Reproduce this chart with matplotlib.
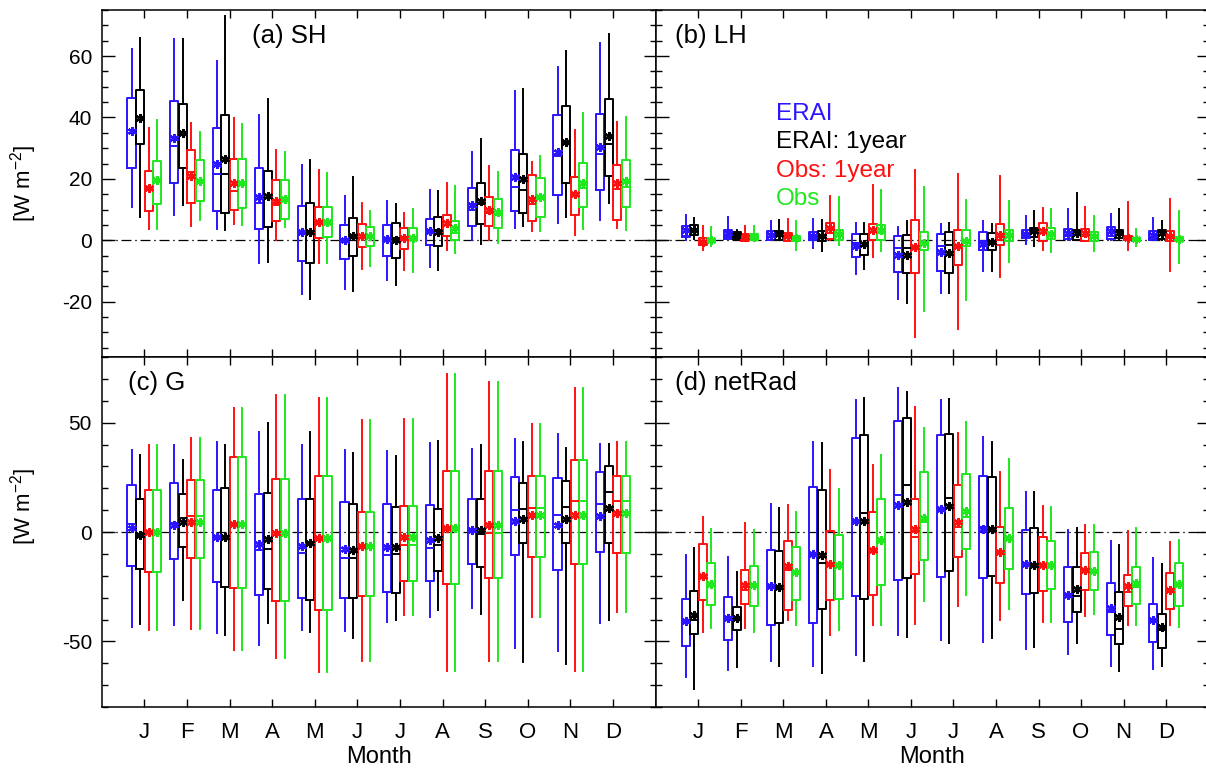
import matplotlib
matplotlib.use('Agg')
import matplotlib.pyplot as plt
from matplotlib.ticker import MultipleLocator

plt.rcParams['font.family'] = ['Liberation Sans', 'DejaVu Sans']
plt.rcParams['mathtext.fontset'] = 'custom'
plt.rcParams['mathtext.rm'] = 'Liberation Sans'
plt.rcParams['mathtext.it'] = 'Liberation Sans:italic'
plt.rcParams['axes.unicode_minus'] = False

months = ['J', 'F', 'M', 'A', 'M', 'J', 'J', 'A', 'S', 'O', 'N', 'D']
series_names = ['ERAI', 'ERAI: 1year', 'Obs: 1year', 'Obs']
series_colors = ['#2b14ff', 'black', '#ff1010', '#1fe81f']

# each row: (whisker low, q1, median, q3, whisker high, mean), one row per month

# (a) SH
sh_erai = [(10.7, 23.5, 35, 46.2, 62.4, 35.6), (8.1, 18.8, 30.8, 45.5, 65.4, 33.2),
           (3.7, 9.4, 21.6, 36.5, 58.5, 24.8), (-7.4, 3.8, 12.1, 23.5, 40.8, 14.1),
           (-17.6, -6.6, 2.7, 11.3, 24.6, 2.7), (-15.8, -6, 0, 5, 14.5, 0),
           (-12.8, -5, 0.4, 5, 12.7, 0.4), (-8.8, -1.6, 3.0, 7.1, 16.5, 3.0),
           (0.2, 4.5, 10, 17, 28.6, 11.4), (4.1, 9.4, 17.4, 29.4, 48.6, 20.7),
           (5.6, 14.8, 27.5, 40.8, 56.6, 28.7), (6.6, 16.5, 28.2, 41, 64.3, 30.5)]
sh_erai1 = [(7.6, 31.3, 40, 48.9, 66, 39.7), (11.4, 23.7, 34.8, 44.3, 65.4, 34.8),
            (3.5, 8.8, 21.6, 40.9, 72.9, 26.6), (-7.0, 4.4, 13.7, 22.6, 46, 14.3),
            (-19, -7.4, 2.7, 12.3, 26.1, 2.7), (-16.6, -5, 1.5, 7.4, 20.6, 1.5),
            (-14.4, -5.8, 0.6, 5.5, 11.9, 0), (-9.8, -1.7, 3.2, 7.7, 16.1, 2.7),
            (-1.2, 5.4, 11.9, 18.8, 32.9, 12.9), (4.5, 8.8, 16.3, 28, 49.4, 20),
            (7.6, 18.6, 32, 43.6, 61.7, 32), (12, 21, 31.3, 46, 67.1, 34)]
sh_obs1 = [(3.7, 9.4, 17, 22.7, 36.5, 17), (4.5, 12.1, 22.4, 29.3, 38.1, 21),
           (5.3, 10, 16.1, 26.6, 39.9, 18.6), (0.2, 6.2, 11.4, 19.6, 29.3, 12.7),
           (-7.4, 0.8, 6, 10.7, 22.8, 6), (-9.5, -2.3, 1.8, 5.2, 12.1, 1.5),
           (-9.8, -2.7, 0.6, 3.9, 8.9, 0.6), (-3.2, 1.5, 5.8, 8.4, 18.6, 5.6),
           (0.2, 4.8, 8.9, 14, 24.2, 10), (2.9, 6.4, 11.9, 21.3, 25.6, 13.5),
           (1.7, 8.1, 15.2, 20.7, 36, 15.2), (4, 6.5, 16.8, 24.5, 38.5, 18.6)]
sh_obs = [(3.7, 11.8, 19.5, 25.9, 39.2, 19.5), (6.5, 12.9, 19.4, 26.2, 35.2, 19.4),
          (4.9, 10.4, 18.3, 26.4, 37.9, 18.6), (4.2, 7.0, 13.4, 19.8, 28.7, 13.4),
          (-7.4, 1.0, 6, 11, 21.8, 6), (-8.4, -1.9, 1.5, 4.3, 9.6, 1.5),
          (-10.4, 0.2, 0.9, 3.9, 10.2, 0.9), (-4.1, 0.2, 2.4, 6.4, 17.7, 4.0),
          (-0.9, 3.9, 8.3, 13.6, 22.1, 9.1), (3.0, 7.6, 14.1, 20.2, 27.5, 14.1),
          (3.7, 10.7, 17, 25.3, 41.3, 18.8), (3.2, 10.9, 17.2, 26.3, 40.3, 19.4)]

# (b) LH
lh_erai = [(0.2, 1.0, 1.3, 4.8, 8.3, 3.5), (0.3, 0.5, 1.1, 3.5, 7.5, 2.4),
           (0.2, 0.2, 1.1, 3.1, 6.4, 1.7), (-2.5, 0, 1.5, 2.7, 7.0, 1.5),
           (-11.1, -5.4, -0.9, 2.2, 5.6, -1.7), (-19.2, -10.2, -2.5, 1.4, 4.3, -4.7),
           (-17.1, -10.1, -1.7, 2.1, 5.3, -3.9), (-10.1, -3.2, -0.3, 2.6, 6.2, -1.2),
           (-1.2, 0.8, 1.6, 3.5, 7.8, 2.2), (0, 0.5, 1.3, 3.7, 10.2, 2.4),
           (0, 0.5, 1.5, 4.3, 8.6, 2.9), (0, 0.2, 0.8, 3.1, 7.3, 1.8)]
lh_erai1 = [(0.3, 1.8, 3.5, 4.9, 7.3, 3.5), (0.2, 0.5, 1.8, 2.7, 3.5, 1.8),
            (0, 0.2, 2.1, 2.9, 6.7, 2.1), (-3.4, -0.3, 1.5, 3.1, 6.5, 1.5),
            (-9.3, -4.8, -0.9, 2.2, 5.6, -1.2), (-20.5, -10.7, -2.5, 1.6, 6.4, -4.9),
            (-17.1, -10.8, -1.4, 2.6, 5.6, -4.1), (-10.1, -3.3, -0.6, 2.4, 5.3, -0.6),
            (-1.7, 1.1, 2.9, 4.0, 9.4, 2.9), (0, 0.2, 1.8, 3.5, 15.4, 2.4),
            (0, 0.8, 1.8, 3.2, 10.3, 2.4), (0.2, 0.5, 1.8, 3.5, 6.2, 2.4)]
lh_obs1 = [(-3.0, -1.4, -0.5, 0.8, 4.8, -0.5), (-0.1, -0.1, 1.1, 2.2, 4.8, 1.1),
           (-0.1, -0.1, 1.3, 2.4, 6.9, 1.3), (0, 0.4, 2.4, 5.6, 14.3, 4.0),
           (-5.4, 0.2, 2.7, 5.4, 18.1, 3.5), (-31.4, -10.5, -2.2, 6.7, 22.8, -2.2),
           (-28.8, -7.9, -1.7, 3.2, 21.6, -1.7), (-11.9, -1.4, 0.2, 5.4, 20.8, 1.8),
           (-3.0, -0.1, 3.2, 5.6, 10.5, 2.9), (-0.1, -0.1, 1.3, 3.7, 10.8, 2.4),
           (-3.2, 0, 0.4, 1.5, 12.5, 0.9), (-10.1, -0.1, 1.3, 2.9, 13.4, 1.3)]
lh_obs = [(-1.9, -0.6, 0, 0.4, 4.3, 0), (0, 0, 1.1, 2.2, 4.5, 1.1),
          (-3.0, -0.3, 0.6, 1.5, 6.4, 0.6), (-1.4, 0.2, 1.3, 3.2, 14, 2.2),
          (-3.4, 0, 2.4, 5.0, 16.5, 3.2), (-23, -3.3, -0.5, 2.6, 17.5, -0.9),
          (-19.5, -1.7, -0.1, 3.2, 13.2, -0.1), (-7.1, -0.1, 1.0, 3.5, 12.9, 1.6),
          (-3.9, 0.5, 1.9, 4.0, 10.2, 2.2), (-3.6, -0.3, 0.8, 2.6, 7.8, 1.3),
          (-1.7, -0.1, 0.2, 0.8, 3.7, 0.5), (-7.3, 0, 0.5, 1.1, 9.4, 0.5)]

# (c) G
g_erai = [(-43.5, -15.5, 3.7, 21.4, 37.7, 2), (-42.7, -12.4, 4, 22.4, 39.8, 3.1),
          (-46.2, -23, -2.5, 19, 41.3, -2.5), (-51.8, -28.6, -8, 17.6, 45.5, -5.5),
          (-44.6, -30, -9.8, 15.3, 39.8, -6.6), (-45.3, -30.2, -11.8, 13.5, 37.7, -7.7),
          (-41.2, -27.6, -10.4, 13, 37.2, -6.7), (-38.9, -22.4, -7.2, 12.4, 40.7, -3.8),
          (-34.8, -14.4, 0.8, 15.3, 38, 0.8), (-52.8, -10.6, 10, 25.1, 42.6, 5.1),
          (-54.2, -17.5, 7.7, 24.7, 44.6, 3.1), (-41.5, -9, 13, 27.4, 40.3, 7.4)]
g_erai1 = [(-42, -17, -1.5, 15, 35.1, -1.5), (-31.2, -7, 6.6, 17.6, 33.1, 4.6),
           (-47, -25.1, -2.5, 19.9, 40, -2.5), (-41.5, -25.9, -7.8, 17.8, 49.8, -3.4),
           (-45.5, -30.9, -5.1, 14.9, 45.5, -5.1), (-48.4, -30.3, -11.8, 12.7, 36, -8.3),
           (-40.1, -27.7, -10.1, 11.6, 34.9, -6.9), (-35.8, -17.8, -6, 10.7, 41.7, -2.6),
           (-37.4, -15.8, -0.9, 14.9, 39.8, 0.9), (-59.6, -5.2, 10.6, 22.5, 41.3, 6),
           (-60.3, -5.2, 11.6, 23.1, 38.4, 5.8), (-40.1, -5.2, 18.1, 30, 40.3, 11.2)]
g_obs1 = [(-44.7, -18.5, 0, 19, 39.8, 0), (-44.4, -11.9, 7.5, 23.6, 43.2, 4.7),
          (-53.9, -25.6, 3.5, 34.5, 56.8, 3.5), (-57.6, -31.7, 0, 24.2, 62.5, -0.5),
          (-64.2, -35.8, -2.6, 25.4, 61.1, -2.6), (-59.1, -29.2, -6.4, 9.2, 51, -6.4),
          (-38.1, -22.2, -6.1, 11.8, 51.6, -2.3), (-63.7, -23.6, 2, 27.9, 72.1, 2),
          (-59.1, -20.8, -0.6, 27.9, 68.8, 3.2), (-38.9, -11.3, 10.9, 25.4, 49.6, 7.8),
          (-63.7, -14.7, 14.4, 32.9, 66, 7.8), (-36.6, -9.6, 14.1, 25.5, 41.1, 8.9)]
g_obs = [(-44.7, -18.5, 0, 19, 39.8, 0), (-44.4, -11.9, 7.5, 23.6, 43.2, 4.7),
         (-53.9, -25.6, 3.5, 34.5, 56.8, 3.5), (-57.6, -31.7, 0, 24.2, 62.5, -0.5),
         (-64.2, -35.8, -2.6, 25.4, 61.1, -2.6), (-59.1, -29.2, -6.4, 9.2, 51, -6.4),
         (-38.1, -22.2, -6.1, 11.8, 51.6, -2.3), (-63.7, -23.6, 2, 27.9, 72.1, 2),
         (-59.1, -20.8, -0.6, 27.9, 68.8, 3.2), (-38.9, -11.3, 10.9, 25.4, 49.6, 7.8),
         (-63.7, -14.7, 14.4, 32.9, 66, 7.8), (-36.6, -9.6, 14.1, 25.5, 41.1, 8.9)]

# (d) netRad
rn_erai = [(-66.5, -52.2, -40.7, -30.8, -10.6, -40.7), (-62.9, -49.2, -39.2, -29.9, -11.3, -39.2),
           (-58.8, -42.7, -24.8, -8.3, 13, -24.8), (-61.4, -41.7, -10.1, 20.4, 41.3, -10.1),
           (-56, -29.4, 5.2, 43.2, 60.2, 5.2), (-47.3, -22.1, 17, 50.7, 65.7, 12.4),
           (-49.2, -20.5, 10.4, 44.3, 60.2, 10.4), (-50.4, -20.8, 2.5, 25.7, 43.5, 1.4),
           (-53.4, -28.2, -14.4, 0.9, 18.1, -14.4), (-55.7, -41.2, -28.6, -16.2, 0.9, -28.6),
           (-61.1, -47.3, -36.6, -23.3, -4, -34.8), (-62.6, -50.1, -40.4, -32.8, -12.1, -40.4)]
rn_erai1 = [(-71.8, -46.6, -40.4, -27.1, -7.5, -38.1), (-61.9, -44.9, -39.2, -34.3, -18.2, -39.2),
            (-61.1, -41.7, -25.3, -8.6, 11.2, -25.3), (-64.6, -35.1, -14.1, 19.1, 40.7, -10.4),
            (-59.1, -30.5, 8.6, 44.4, 61.4, 4.9), (-47.8, -20.8, 21.4, 52.1, 64, 13.5),
            (-50.7, -17.8, 15.5, 44.7, 61, 11.9), (-48.4, -20.2, 1.2, 25, 41, 1.2),
            (-52.7, -27.7, -14.9, 2, 18.5, -14.9), (-50.8, -36.6, -29.2, -15.9, 1.7, -26.2),
            (-63.4, -51.4, -44.3, -27.4, -6.1, -38.9), (-61.1, -53.1, -45, -37.4, -14.4, -43.2)]
rn_obs1 = [(-45.8, -31.2, -19.9, -5.7, 6.7, -19.9), (-44, -32.8, -26.6, -17.5, 4.3, -24),
           (-40.1, -35.8, -17.5, -4, 12.4, -15.5), (-47, -30.9, -14.4, 0.5, 28.5, -14.4),
           (-42.7, -28.6, -8, 9, 30.8, -8), (-42, -19, -2.1, 15.2, 57.1, 1.2),
           (-33.8, -11.5, 2.5, 21.3, 45.3, 4.7), (-40.1, -23.1, -9, 2.5, 27.4, -9),
           (-41.2, -27, -14.9, -2.1, 12.1, -14.9), (-38.4, -26.6, -17.5, -9.5, 3.1, -17.5),
           (-42.4, -34, -27.4, -19.8, 0.6, -24.7), (-42.7, -35.1, -26.6, -18.7, -4.6, -26.6)]
rn_obs = [(-44, -33.4, -23.7, -14.1, 1.4, -23.7), (-45.5, -34, -24.2, -15.5, 0.8, -24.2),
          (-42.7, -30.9, -18.2, -6.9, 9.3, -18.2), (-44.7, -30.6, -15.2, -1.4, 19.6, -15.2),
          (-42.4, -24.3, -3.8, 15.2, 35.4, -3.8), (-31.5, -13, 4.7, 27.6, 47.6, 6.6),
          (-28.9, -7.8, 7, 26.5, 50.4, 9.8), (-35.1, -16.7, -2.6, 11, 33.4, -2.6),
          (-41.2, -26.2, -14.9, -4, 11.3, -14.9), (-37.4, -26.6, -17.8, -9.2, 3.4, -17.8),
          (-42.3, -32.8, -25.1, -15.9, 2, -23.1), (-43.2, -33.8, -23.6, -14.1, -3.7, -23.6)]

panels = [
    ('(a) SH', [sh_erai, sh_erai1, sh_obs1, sh_obs], (-38, 75), 20, 5),
    ('(b) LH', [lh_erai, lh_erai1, lh_obs1, lh_obs], (-38, 75), 20, 5),
    ('(c) G', [g_erai, g_erai1, g_obs1, g_obs], (-80, 80), 50, 10),
    ('(d) netRad', [rn_erai, rn_erai1, rn_obs1, rn_obs], (-80, 80), 50, 10),
]
offsets = [-0.3, -0.1, 0.1, 0.3]

W, H = 1206, 775
fig = plt.figure(figsize=(W / 100, H / 100), dpi=100)

# axes boxes in pixels: left, right, top, bottom
xl = [(101.7, 655.5), (655.8, 1208.6)]
yl = [(10, 357), (357, 707)]


def box_stats(rows):
    out = []
    for lo, q1, med, q3, hi, mean in rows:
        out.append(dict(whislo=lo, q1=q1, med=med, q3=q3, whishi=hi, mean=mean, fliers=[]))
    return out


for k, (title, data, ylim, major, minor) in enumerate(panels):
    row, col = divmod(k, 2)
    x0, x1 = xl[col]
    ytop, ybot = yl[row]
    ax = fig.add_axes([x0 / W, 1 - ybot / H, (x1 - x0) / W, (ybot - ytop) / H])

    ax.axhline(0, color='black', lw=0.9, ls=(0, (8, 3, 1.2, 3)), zorder=1)

    for rows, off, c in zip(data, offsets, series_colors):
        pos = [m + 1 + off for m in range(12)]
        ax.bxp(box_stats(rows), positions=pos, widths=0.19,
               showmeans=True, showcaps=False, showfliers=False,
               manage_ticks=False,
               boxprops=dict(color=c, lw=1.4),
               whiskerprops=dict(color=c, lw=1.4),
               medianprops=dict(color=c, lw=1.4),
               meanprops=dict(marker=(6, 2, 0), markeredgecolor=c,
                              markerfacecolor=c, markersize=6.5, markeredgewidth=1.7))

    ax.set_xlim(0, 13)
    ax.set_ylim(*ylim)
    ax.set_xticks(range(1, 13))
    ax.yaxis.set_major_locator(MultipleLocator(major))
    ax.yaxis.set_minor_locator(MultipleLocator(minor))
    ax.tick_params(which='both', direction='in', top=True, right=True, width=1)
    ax.tick_params(which='major', length=9)
    ax.tick_params(which='minor', length=4.5)
    ax.tick_params(axis='x', length=6)
    ax.tick_params(axis='y', labelsize=15, pad=7)
    for s in ax.spines.values():
        s.set_linewidth(1.1)

    if row == 1:
        ax.set_xticklabels(months, fontsize=16)
        ax.tick_params(axis='x', pad=11)
        ax.set_xlabel('Month', fontsize=17, labelpad=2)
    else:
        ax.set_xticklabels([])
    if col == 0:
        ax.set_ylabel(r'[W m$^{-2}$]', fontsize=16)
        ax.yaxis.set_label_coords(-0.113, 0.5 if row == 0 else 0.572)
    else:
        ax.set_yticklabels([])

    tx = 0.271 if k == 0 else (0.048 if col == 0 else 0.035)
    ax.text(tx, 0.905, title, transform=ax.transAxes, fontsize=18.5, va='baseline')

    if k == 1:
        for i, (name, c) in enumerate(zip(series_names, series_colors)):
            ax.text(0.2174, 0.683 - 0.082 * i, name, color=c, fontsize=17.5,
                    transform=ax.transAxes, va='baseline')

plt.savefig('out.png', dpi=100)
